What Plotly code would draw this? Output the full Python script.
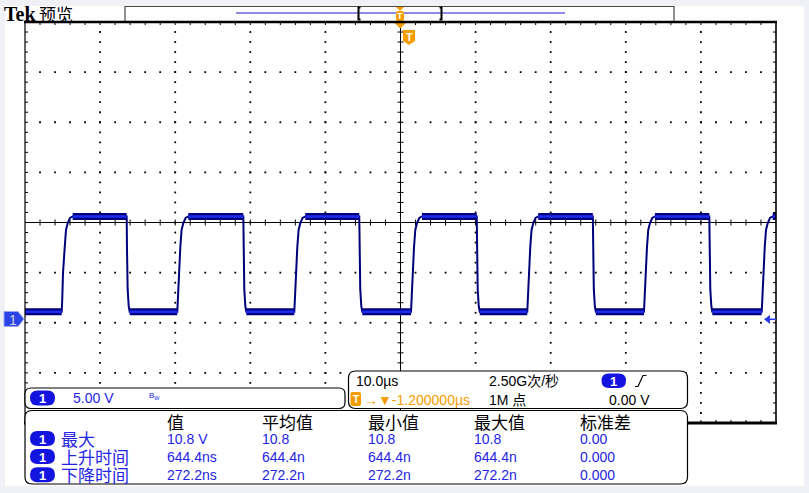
import plotly.graph_objects as go

W, H = 809, 493

time_per_div = 10.0          # µs / div
volts_per_div = 5.0          # V / div
center_volts = 9.65          # V at the graticule centre line (ground offset)
rise_times = [-45.11, -29.72, -14.14, 1.40, 16.88, 32.42, 48.10]   # µs, start of rising edges
fall_times = [-36.46, -20.93, -5.49, 10.15, 25.61, 41.12]          # µs, start of falling edges
low_level = 0.75             # V
high_level = 10.25           # V
rise_dt = [0.0, 0.07, 0.17, 0.40, 0.57, 0.80, 1.10, 1.46]
rise_v = [0.75, 2.0, 4.6, 7.2, 8.9, 9.6, 10.1, 10.25]
fall_dt = [0.0, 0.04, 0.13, 0.27, 0.40]
fall_v = [10.25, 7.0, 3.0, 1.3, 0.75]

meas_cols = ["值", "平均值", "最小值", "最大值", "标准差"]
meas_rows = ["最大", "上升时间", "下降时间"]
meas_vals = [["10.8 V", "10.8", "10.8", "10.8", "0.00"],
             ["644.4ns", "644.4n", "644.4n", "644.4n", "0.000"],
             ["272.2ns", "272.2n", "272.2n", "272.2n", "0.000"]]
ch_scale = "5.00 V"
h_scale = "10.0µs"
sample_rate = "2.50G次/秒"
record_len = "1M 点"
trig_pos = "-1.200000µs"
trig_level = "0.00 V"

# ---------------- derived ranges ----------------
t_min, t_max = -5 * time_per_div, 5 * time_per_div
v_min, v_max = center_volts - 4 * volts_per_div, center_volts + 4 * volts_per_div

BLUE_TXT = "#2424e6"
NAVY = "#00007a"
BRIGHT = "#1c2cf2"
ORANGE = "#f59d00"
FONT = "Liberation Sans, Noto Sans CJK SC, sans-serif"
CJK = "Noto Sans CJK SC, sans-serif"


def X(px):
    return px / W


def Y(py):
    return 1 - py / H


def rrect(x0, y0, x1, y1, r):
    return (f"M {X(x0+r)},{Y(y0)} L {X(x1-r)},{Y(y0)} Q {X(x1)},{Y(y0)} {X(x1)},{Y(y0+r)} "
            f"L {X(x1)},{Y(y1-r)} Q {X(x1)},{Y(y1)} {X(x1-r)},{Y(y1)} "
            f"L {X(x0+r)},{Y(y1)} Q {X(x0)},{Y(y1)} {X(x0)},{Y(y1-r)} "
            f"L {X(x0)},{Y(y0+r)} Q {X(x0)},{Y(y0)} {X(x0+r)},{Y(y0)} Z")


def poly(pts, close=True):
    s = "M " + " L ".join(f"{X(a)},{Y(b)}" for a, b in pts)
    return s + (" Z" if close else "")


fig = go.Figure()

# ---------------- graticule dots ----------------
dx, dy = [], []
vminor = [center_volts + k * volts_per_div / 5 for k in range(-19, 20)]
tminor = [t_min + k * time_per_div / 5 for k in range(1, 50)]
for m in range(-4, 5):
    if m == 0:
        continue
    t = m * time_per_div
    dx += [t] * len(vminor)
    dy += vminor
for m in range(-3, 4):
    if m == 0:
        continue
    v = center_volts + m * volts_per_div
    dx += tminor
    dy += [v] * len(tminor)
fig.add_trace(go.Scatter(x=dx, y=dy, mode="markers", hoverinfo="skip",
                         marker=dict(symbol="square", size=1.8, color="#000", line=dict(width=0))))

# ---------------- centre lines + border ticks ----------------
lx, ly = [], []
tk_t = 0.4
tk_v = 0.3
lx += [0, 0, None]; ly += [v_min, v_max, None]
lx += [t_min, t_max, None]; ly += [center_volts, center_volts, None]
for v in vminor:
    lx += [-tk_t, tk_t, None, t_min, t_min + tk_t, None, t_max - tk_t, t_max, None]
    ly += [v, v, None, v, v, None, v, v, None]
for t in tminor:
    lx += [t, t, None, t, t, None, t, t, None]
    ly += [center_volts - tk_v, center_volts + tk_v, None, v_max, v_max - tk_v, None, v_min, v_min + tk_v, None]
fig.add_trace(go.Scatter(x=lx, y=ly, mode="lines", hoverinfo="skip",
                         line=dict(color="#000", width=1)))

# ---------------- waveform ----------------
edges = sorted([(t, "r") for t in rise_times] + [(t, "f") for t in fall_times])
wx, wy = [t_min], [low_level]
plat_x, plat_y = [], []
cur_t, cur_v = t_min, low_level
for t, kind in edges:
    plat_x += [cur_t, t, None]
    plat_y += [cur_v, cur_v, None]
    if kind == "r":
        wx += [t + d for d in rise_dt]; wy += rise_v
        cur_t, cur_v = t + rise_dt[-1], high_level
    else:
        wx += [t + d for d in fall_dt]; wy += fall_v
        cur_t, cur_v = t + fall_dt[-1], low_level
wx.append(t_max); wy.append(cur_v)
plat_x += [cur_t, t_max, None]; plat_y += [cur_v, cur_v, None]

fig.add_trace(go.Scatter(x=plat_x, y=plat_y, mode="lines", hoverinfo="skip",
                         line=dict(color=NAVY, width=7)))
fig.add_trace(go.Scatter(x=wx, y=wy, mode="lines", hoverinfo="skip",
                         line=dict(color=NAVY, width=2)))
fig.add_trace(go.Scatter(x=plat_x, y=plat_y, mode="lines", hoverinfo="skip",
                         line=dict(color=BRIGHT, width=2.5)))

# ---------------- shapes ----------------
shapes = []
# white page
shapes.append(dict(type="rect", xref="paper", yref="paper", x0=X(5), x1=X(804), y0=Y(486), y1=Y(6),
                   fillcolor="#ffffff", line=dict(width=0), layer="below"))
# record view bar
shapes.append(dict(type="path", xref="paper", yref="paper",
                   path=poly([(125, 22), (125, 6.5), (674, 6.5), (674, 22)], close=False),
                   line=dict(color="#4a4a4a", width=1.2)))
shapes.append(dict(type="line", xref="paper", yref="paper", x0=X(236), x1=X(565), y0=Y(13), y1=Y(13),
                   line=dict(color="#1a1acc", width=1.2)))
for bx, s in [(358.5, 1), (441.5, -1)]:
    shapes.append(dict(type="path", xref="paper", yref="paper",
                       path=poly([(bx + 2 * s, 7.5), (bx, 7.5), (bx, 19.5), (bx + 2 * s, 19.5)], close=False),
                       line=dict(color="#000", width=2)))
# orange trigger markers
shapes.append(dict(type="path", xref="paper", yref="paper",
                   path=poly([(396, 7), (404, 7), (400, 11)]), fillcolor=ORANGE, line=dict(width=0)))
shapes.append(dict(type="path", xref="paper", yref="paper", path=rrect(396, 11, 404, 21, 2),
                   fillcolor=ORANGE, line=dict(width=0)))
shapes.append(dict(type="path", xref="paper", yref="paper",
                   path=poly([(394.5, 23), (406, 23), (400.3, 28.5)]), fillcolor=ORANGE, line=dict(width=0)))
shapes.append(dict(type="path", xref="paper", yref="paper",
                   path=poly([(403, 30), (415, 30), (415, 41), (409, 45), (403, 41)]),
                   fillcolor=ORANGE, line=dict(width=0)))
# graticule border
shapes.append(dict(type="line", xref="paper", yref="paper", x0=X(25), x1=X(25), y0=Y(22), y1=Y(423),
                   line=dict(color="#000", width=1.2)))
shapes.append(dict(type="line", xref="paper", yref="paper", x0=X(776), x1=X(776), y0=Y(22), y1=Y(424),
                   line=dict(color="#000", width=1.6)))
shapes.append(dict(type="line", xref="paper", yref="paper", x0=X(24), x1=X(777), y0=Y(22), y1=Y(22),
                   line=dict(color="#000", width=2.6)))
shapes.append(dict(type="line", xref="paper", yref="paper", x0=X(24), x1=X(777), y0=Y(423), y1=Y(423),
                   line=dict(color="#000", width=3)))
# ground marker (left) and trigger level (right)
shapes.append(dict(type="path", xref="paper", yref="paper",
                   path=poly([(4, 311.5), (18, 311.5), (24, 319), (18, 326.5), (4, 326.5)]),
                   fillcolor="#2a44e8", line=dict(color="#9aa6f0", width=1), layer="above"))
shapes.append(dict(type="path", xref="paper", yref="paper",
                   path=poly([(764, 319.3), (770, 315), (770, 324)]), fillcolor="#2a3ce6",
                   line=dict(width=0), layer="above"))
shapes.append(dict(type="line", xref="paper", yref="paper", x0=X(769), x1=X(776), y0=Y(319.3), y1=Y(319.3),
                   line=dict(color="#2a3ce6", width=1.5), layer="above"))
# panels
shapes.append(dict(type="path", xref="paper", yref="paper", path=rrect(25, 388, 345, 408.5, 6),
                   fillcolor="#fff", line=dict(color="#000", width=1.2), layer="above"))
shapes.append(dict(type="path", xref="paper", yref="paper", path=rrect(348.5, 371, 687.5, 408.5, 7),
                   fillcolor="#fff", line=dict(color="#000", width=1.2), layer="above"))
shapes.append(dict(type="path", xref="paper", yref="paper", path=rrect(25, 410.5, 687.5, 484, 7),
                   fillcolor="#fff", line=dict(color="#000", width=1.2), layer="above"))
# channel pills
pill_rows = [398, 438.5, 456.5, 474.8]
for py in pill_rows:
    shapes.append(dict(type="path", xref="paper", yref="paper", path=rrect(30, py - 7.5, 55, py + 7.5, 7.5),
                       fillcolor="#1414e0", line=dict(width=0), layer="above"))
shapes.append(dict(type="path", xref="paper", yref="paper", path=rrect(601.5, 373.5, 626, 388, 7.2),
                   fillcolor="#1414e0", line=dict(width=0), layer="above"))
# trigger slope symbol
shapes.append(dict(type="path", xref="paper", yref="paper",
                   path=poly([(635, 386.5), (638, 386.5), (643, 375.5), (646.5, 375.5)], close=False),
                   line=dict(color="#000", width=1.2), layer="above"))
# orange T box in horizontal panel
shapes.append(dict(type="path", xref="paper", yref="paper", path=rrect(350.5, 392, 361, 406, 2),
                   fillcolor=ORANGE, line=dict(width=0), layer="above"))

# ---------------- annotations ----------------
ann = []


def txt(x, y, s, size=14, color="#000", family=FONT, anchor="left", bold=False):
    ann.append(dict(x=X(x), y=Y(y), xref="paper", yref="paper", text=(f"<b>{s}</b>" if bold else s),
                    showarrow=False, xanchor=anchor, yanchor="middle",
                    font=dict(size=size, color=color, family=family)))


txt(2, 13.5, "Tek", size=20, family="Liberation Serif, serif", bold=True)
txt(37, 13, "预览", size=17, family=CJK)
txt(400, 16, "T", size=9, color="#fff", anchor="center", bold=True)
txt(409, 37, "T", size=11, color="#fff", anchor="center", bold=True)
txt(13, 319.5, "1", size=14, color="#d0d0d8", anchor="center")
for py in pill_rows:
    txt(42.5, py + 0.5, "1", size=13, color="#fff", anchor="center", bold=True)
txt(613.8, 381, "1", size=13, color="#fff", anchor="center", bold=True)

txt(71, 398, ch_scale, size=14, color=BLUE_TXT)
txt(147, 396, "B<sub>W</sub>", size=8, color=BLUE_TXT)

txt(353.5, 381, h_scale, size=14)
txt(487, 381, sample_rate, size=14)
txt(355.8, 399.5, "T", size=10, color="#fff", anchor="center", bold=True)
txt(362, 399.5, "→▼" + trig_pos, size=14, color=ORANGE)
txt(487, 399.5, record_len, size=14)
txt(607, 399.5, trig_level, size=14)

col_x = [165, 260, 366, 472, 578]
for cx, c in zip(col_x, meas_cols):
    txt(cx, 421.5, c, size=17, family=CJK)
for r, (label, vals) in enumerate(zip(meas_rows, meas_vals)):
    py = pill_rows[r + 1]
    txt(59, py, label, size=17, color=BLUE_TXT, family=CJK)
    for cx, v in zip(col_x, vals):
        txt(cx, py + 0.5, v, size=14, color=BLUE_TXT)

fig.update_layout(
    width=W, height=H, autosize=False,
    margin=dict(l=0, r=0, t=0, b=0),
    paper_bgcolor="#eff1f6", plot_bgcolor="rgba(0,0,0,0)",
    showlegend=False,
    xaxis=dict(range=[t_min, t_max], domain=[25 / W, 776 / W], visible=False, fixedrange=True),
    yaxis=dict(range=[v_min, v_max], domain=[1 - 423 / H, 1 - 22 / H], visible=False, fixedrange=True),
    shapes=shapes, annotations=ann,
)

fig.write_html("out.html", config={"displayModeBar": False},
               post_script="document.body.style.margin='0';document.body.style.overflow='hidden';")
